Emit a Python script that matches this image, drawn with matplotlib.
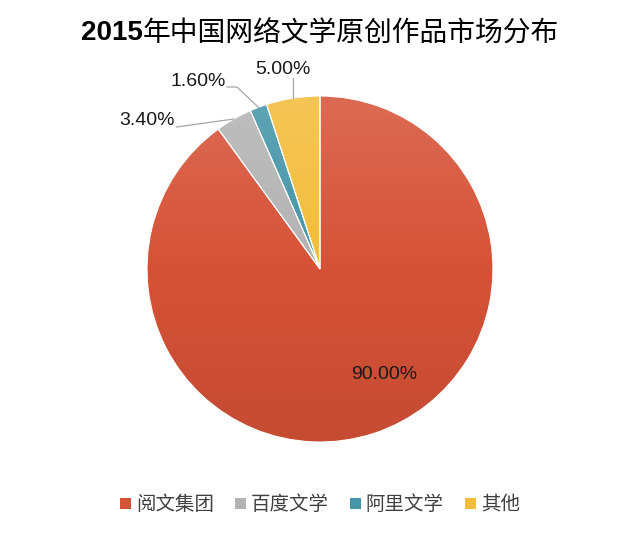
import numpy as np
import matplotlib
matplotlib.use("Agg")
import matplotlib.pyplot as plt
from matplotlib.colors import LinearSegmentedColormap, to_rgb
from matplotlib.patches import Patch

plt.rcParams['font.family'] = ['Liberation Sans', 'Noto Sans CJK SC', 'DejaVu Sans']

title_year = "2015"
title_rest = "年中国网络文学原创作品市场分布"
names = ["阅文集团", "百度文学", "阿里文学", "其他"]
shares = [90.0, 3.4, 1.6, 5.0]
colors = ["#D65237", "#B3B3B3", "#4495A8", "#F3BC3A"]

fig = plt.figure(figsize=(6.4, 5.33), dpi=100)
cx, cy, r = 320, 269, 173
ax = fig.add_axes([(cx - r) / 640, (533 - cy - r) / 533, 2 * r / 640, 2 * r / 533])

wedges, _ = ax.pie(shares, colors=colors, startangle=90, counterclock=False,
                   radius=1, wedgeprops=dict(edgecolor="white", linewidth=0.8))
ax.set_aspect("equal")
ax.axis("off")

# soft vertical gradient on each slice
grad = np.linspace(0, 1, 256).reshape(-1, 1)
for w, c in zip(wedges, colors):
    base = np.array(to_rgb(c))
    light = base + (1 - base) * 0.14
    dark = base * 0.92
    cmap = LinearSegmentedColormap.from_list("g", [dark, base, light])
    im = ax.imshow(grad, cmap=cmap, extent=[-1, 1, -1, 1], origin="lower",
                   aspect="auto", zorder=w.get_zorder() - 0.01)
    im.set_clip_path(w)
    w.set_facecolor("none")

ax.set_xlim(-1, 1)
ax.set_ylim(-1, 1)

lc = "#A6A6A6"
tc = "#1a1a1a"
fs = 14

# angle at the middle of each slice
angles = []
start = 90.0
for s in shares:
    span = s / 100 * 360
    angles.append(start - span / 2)
    start -= span
edges = [(np.cos(np.radians(a)), np.sin(np.radians(a))) for a in angles]

# 90.00%
ax.text(0.37, -0.607, f"{shares[0]:.2f}%", ha="center", va="center", fontsize=fs, color=tc)

# 3.40%
ex, ey = edges[1]
ax.plot([ex, -0.828], [ey, 0.821], color=lc, lw=0.9, clip_on=False)
ax.text(-0.84, 0.861, f"{shares[1]:.2f}%", ha="right", va="center", fontsize=fs, color=tc)

# 1.60%
ex, ey = edges[2]
ax.plot([ex, -0.48, -0.538], [ey, 1.052, 1.052], color=lc, lw=0.9, clip_on=False)
ax.text(-0.545, 1.081, f"{shares[2]:.2f}%", ha="right", va="center", fontsize=fs, color=tc)

# 5.00%
ex, ey = edges[3]
ax.plot([ex, ex], [ey, 1.104], color=lc, lw=0.9, clip_on=False)
ax.text(-0.214, 1.155, f"{shares[3]:.2f}%", ha="center", va="center", fontsize=fs, color=tc)

# title: bold year + regular Chinese
ty = 1 - 33 / 533
fig.text(143 / 640, ty, title_year, ha="right", va="center",
         fontsize=20, fontweight="bold", color="black", family="Liberation Sans")
fig.text(143 / 640, ty, title_rest, ha="left", va="center",
         fontsize=20, fontweight="light", color="black", family="Noto Sans CJK SC")

handles = [Patch(facecolor=c, edgecolor="none") for c in colors]
fig.legend(handles, names, loc="center", bbox_to_anchor=(0.5, 1 - 505 / 533),
           ncol=4, frameon=False, handlelength=0.55, handleheight=0.55,
           handletextpad=0.25, columnspacing=1.1, labelcolor="#404040",
           prop={"family": "Noto Sans CJK SC", "size": 14, "weight": "light"})

fig.savefig("out.png", dpi=100)
